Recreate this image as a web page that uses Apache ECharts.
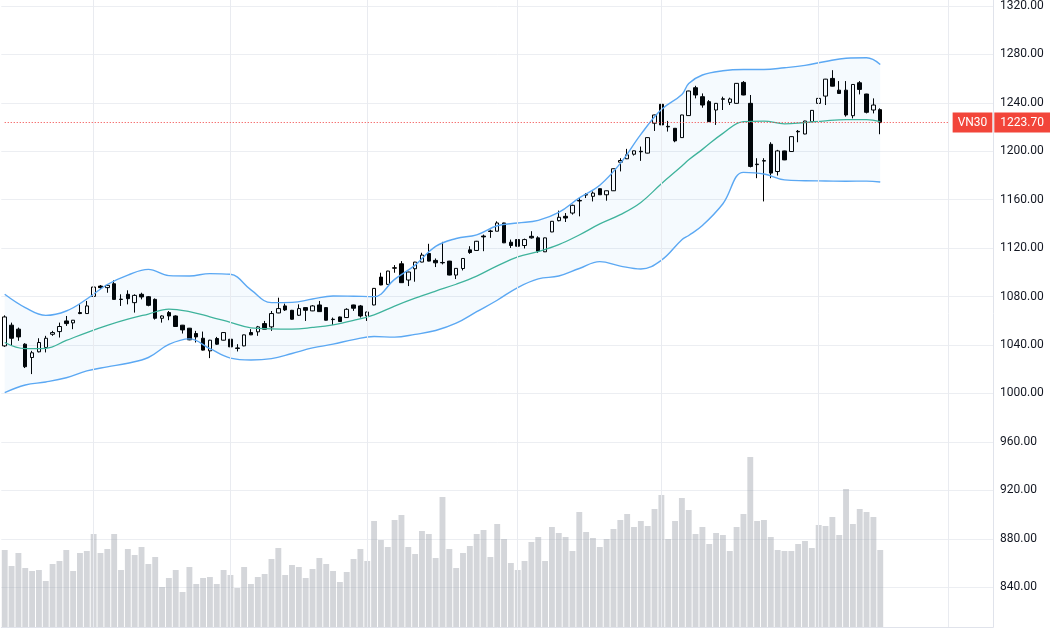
<!DOCTYPE html>
<html>
<head>
<meta charset="utf-8">
<script src="https://cdn.jsdelivr.net/npm/echarts@6/dist/echarts.min.js"></script>
<style>
  html, body { margin: 0; padding: 0; background: #fff; }
  #chart { width: 1050px; height: 630px; }
</style>
</head>
<body>
<div id="chart"></div>
<script>
// daily OHLC, one entry per session
const opens = [
  1039.3, 1056.4, 1053.1, 1040.7, 1029.7, 1034.4, 1038.0, 1048.9, 1051.1, 1059.9,
  1058.3, 1066.8, 1066.0, 1080.2, 1088.7, 1087.4, 1090.6, 1077.9, 1081.9, 1075.0,
  1081.9, 1079.9, 1077.7, 1062.1, 1066.8, 1064.0, 1056.4, 1053.9, 1049.5, 1045.6,
  1035.2, 1045.4, 1044.0, 1044.8, 1037.6, 1039.3, 1050.3, 1050.9, 1057.7, 1055.0,
  1066.5, 1072.3, 1068.7, 1064.6, 1070.9, 1068.2, 1073.1, 1070.9, 1061.3, 1063.2,
  1062.7, 1073.1, 1072.3, 1064.0, 1073.1, 1096.1, 1090.1, 1103.8, 1107.1, 1093.7,
  1103.0, 1108.5, 1115.6, 1109.9, 1108.2, 1109.3, 1097.8, 1103.2, 1118.6, 1118.1,
  1130.0, 1134.2, 1134.0, 1140.8, 1124.9, 1127.1, 1122.2, 1129.8, 1128.5, 1117.0,
  1133.4, 1142.7, 1146.3, 1149.0, 1159.4, 1164.2, 1162.8, 1169.1, 1164.1, 1167.4,
  1191.0, 1193.8, 1197.6, 1200.0, 1198.5, 1223.2, 1238.8, 1220.6, 1219.0, 1211.3,
  1229.5, 1252.5, 1245.1, 1241.0, 1234.1, 1243.3, 1240.4, 1239.6, 1256.9, 1239.6,
  1189.4, 1192.3, 1205.8, 1183.3, 1200.3, 1199.8, 1216.5, 1214.3, 1224.5, 1239.6,
  1245.6, 1260.2, 1250.5, 1250.5, 1229.4, 1256.6, 1247.3, 1234.1, 1234.4
];
const closes = [
  1063.2, 1045.6, 1046.7, 1022.1, 1033.6, 1042.1, 1045.6, 1050.3, 1055.3, 1057.7,
  1060.5, 1066.0, 1072.3, 1087.9, 1087.4, 1089.3, 1077.7, 1077.6, 1078.3, 1081.0,
  1079.7, 1072.8, 1062.1, 1064.0, 1064.0, 1055.3, 1052.5, 1044.3, 1046.7, 1035.8,
  1044.0, 1040.7, 1050.3, 1038.5, 1037.2, 1048.4, 1048.4, 1055.0, 1053.1, 1066.0,
  1070.1, 1069.0, 1061.3, 1070.1, 1068.7, 1072.3, 1067.6, 1060.5, 1061.0, 1059.4,
  1069.5, 1070.4, 1064.0, 1067.3, 1086.8, 1089.6, 1101.1, 1103.5, 1091.5, 1100.3,
  1108.5, 1114.3, 1109.3, 1107.9, 1107.9, 1097.8, 1103.3, 1111.5, 1116.4, 1125.7,
  1129.3, 1133.8, 1140.8, 1124.4, 1122.2, 1121.6, 1127.1, 1128.5, 1117.5, 1128.5,
  1142.2, 1145.5, 1144.9, 1155.4, 1159.0, 1163.9, 1165.5, 1164.1, 1167.4, 1185.6,
  1192.4, 1197.1, 1200.4, 1199.6, 1211.3, 1230.0, 1221.8, 1220.2, 1208.6, 1230.0,
  1249.8, 1246.5, 1238.2, 1224.5, 1239.6, 1243.0, 1243.2, 1256.1, 1246.5, 1187.5,
  1189.0, 1191.9, 1182.0, 1200.3, 1192.9, 1212.1, 1216.1, 1225.0, 1233.8, 1243.7,
  1259.6, 1253.8, 1247.8, 1230.0, 1255.2, 1251.1, 1232.2, 1238.2, 1223.7
];
const lows = [
  1038.5, 1039.3, 1043.5, 1021.0, 1016.0, 1033.9, 1033.9, 1047.6, 1046.2, 1055.8,
  1053.1, 1065.5, 1066.0, 1080.0, 1086.0, 1083.2, 1077.7, 1072.3, 1073.6, 1066.8,
  1077.7, 1072.0, 1061.0, 1058.5, 1060.5, 1055.0, 1049.5, 1044.0, 1042.1, 1035.5,
  1029.2, 1040.2, 1043.8, 1038.3, 1034.7, 1039.0, 1048.2, 1047.6, 1053.0, 1051.7,
  1066.3, 1068.1, 1061.0, 1064.0, 1059.9, 1068.0, 1067.4, 1060.3, 1056.6, 1059.2,
  1062.5, 1068.2, 1062.7, 1059.9, 1072.8, 1089.4, 1090.0, 1099.7, 1091.3, 1088.7,
  1092.3, 1108.3, 1109.1, 1104.4, 1106.6, 1097.6, 1094.5, 1101.6, 1115.3, 1118.0,
  1117.5, 1128.5, 1134.0, 1124.2, 1120.2, 1120.2, 1119.7, 1127.9, 1116.1, 1116.8,
  1133.2, 1142.2, 1141.6, 1147.7, 1146.3, 1161.4, 1158.6, 1164.0, 1159.2, 1167.2,
  1183.4, 1193.6, 1196.5, 1192.1, 1198.3, 1216.8, 1221.6, 1216.3, 1207.5, 1211.1,
  1229.3, 1243.7, 1236.0, 1224.3, 1221.8, 1234.1, 1238.2, 1239.4, 1246.3, 1186.7,
  1177.8, 1158.6, 1177.8, 1180.0, 1192.7, 1199.6, 1207.5, 1214.1, 1224.3, 1238.2,
  1238.2, 1253.6, 1247.6, 1228.6, 1227.2, 1247.0, 1231.3, 1231.3, 1214.1
];
const highs = [
  1064.5, 1058.5, 1054.4, 1041.5, 1035.2, 1045.6, 1047.6, 1051.7, 1058.5, 1064.0,
  1060.7, 1073.6, 1076.4, 1088.5, 1089.5, 1089.5, 1093.4, 1081.9, 1085.2, 1081.9,
  1083.2, 1080.5, 1078.5, 1064.5, 1068.1, 1064.5, 1056.6, 1054.1, 1051.7, 1051.1,
  1044.3, 1046.7, 1050.5, 1046.2, 1040.7, 1048.6, 1053.1, 1055.8, 1059.9, 1068.1,
  1079.1, 1074.2, 1069.0, 1073.6, 1071.1, 1073.0, 1076.4, 1071.2, 1062.7, 1063.5,
  1070.4, 1073.3, 1073.1, 1067.5, 1087.0, 1099.7, 1101.3, 1106.0, 1109.3, 1100.5,
  1108.7, 1116.2, 1123.6, 1111.5, 1125.2, 1109.5, 1103.5, 1111.7, 1121.6, 1126.0,
  1131.2, 1135.3, 1142.2, 1141.0, 1127.1, 1129.0, 1127.9, 1134.0, 1129.8, 1128.7,
  1142.4, 1151.0, 1149.0, 1155.9, 1161.4, 1165.5, 1166.9, 1169.3, 1167.6, 1185.8,
  1194.3, 1202.0, 1200.6, 1203.9, 1211.5, 1230.2, 1239.0, 1225.1, 1219.2, 1230.2,
  1250.0, 1254.1, 1247.8, 1242.3, 1239.8, 1245.1, 1244.3, 1256.3, 1258.0, 1246.5,
  1194.3, 1194.3, 1207.5, 1201.2, 1200.5, 1212.3, 1217.6, 1225.2, 1234.0, 1247.8,
  1259.8, 1267.0, 1258.0, 1258.0, 1255.4, 1258.0, 1247.5, 1243.7, 1235.5
];
// volume, million shares
const volumes = [
  77, 61, 74, 59, 56, 57, 46, 63, 66, 77,
  56, 74, 76, 93, 74, 78, 93, 57, 78, 72,
  80, 63, 70, 40, 49, 57, 35, 60, 43, 49,
  50, 43, 57, 52, 39, 60, 43, 50, 53, 68,
  79, 52, 62, 60, 49, 58, 69, 63, 56, 45,
  55, 68, 78, 66, 106, 87, 80, 107, 112, 80,
  73, 96, 93, 69, 130, 78, 59, 74, 81, 93,
  97, 70, 103, 88, 64, 57, 66, 85, 90, 66,
  100, 94, 90, 76, 115, 95, 89, 80, 88, 98,
  107, 113, 100, 106, 101, 118, 132, 88, 106, 129,
  117, 93, 100, 83, 94, 92, 76, 100, 113, 170,
  106, 107, 90, 77, 76, 76, 83, 86, 79, 102,
  101, 110, 92, 138, 103, 118, 115, 110, 77
];

// Bollinger bands at these sessions
const bandIdx = [0, 3, 6, 9, 12, 15, 18, 21, 24, 27, 30, 33, 36, 39, 42, 45, 48, 51, 54, 57, 60, 63, 66,
  69, 72, 75, 78, 81, 84, 87, 90, 93, 96, 99, 100, 102, 105, 108, 111, 114, 117, 120, 123, 126, 128];
const bandUpper = [1081.9, 1070.9, 1064.5, 1068.1, 1078, 1090, 1097.8, 1102.5, 1097.3, 1097, 1099, 1098.4,
  1085.5, 1075, 1075.2, 1078, 1080.5, 1080.3, 1080, 1094.2, 1106, 1121.5, 1128, 1131, 1138.5, 1140.8,
  1143, 1149.5, 1161.5, 1172, 1190, 1214, 1234.5, 1247, 1256, 1263, 1266.5, 1267.5, 1267.5, 1269,
  1271, 1274.2, 1276.8, 1277.2, 1271.7];
const bandMiddle = [1042.1, 1037, 1037.3, 1043.8, 1050.3, 1056.2, 1061.3, 1065.6, 1069.7, 1067.6, 1063.3,
  1058.7, 1054.2, 1053.4, 1053.2, 1054.5, 1056.6, 1060.3, 1065, 1072.2, 1078.7, 1084.6, 1090.2, 1096.9,
  1105.4, 1112.8, 1117.2, 1122.9, 1130.9, 1140, 1147.7, 1157.8, 1173.2, 1187.8, 1193, 1201.6, 1214.8,
  1224.5, 1225, 1222.6, 1223.8, 1225.2, 1226.1, 1226.2, 1224.5];
const bandLower = [1000.7, 1007, 1009.5, 1013, 1018.6, 1022, 1025, 1029.7, 1040.5, 1045.1, 1037, 1029.2,
  1027.6, 1028.8, 1033, 1037.6, 1040.7, 1044.5, 1047, 1046.5, 1048.8, 1052, 1058, 1067.5, 1077, 1087.5,
  1094.6, 1097, 1103.2, 1108.9, 1105.2, 1102.8, 1110, 1127, 1130.5, 1138.7, 1156.7, 1182.6, 1181.3,
  1176.4, 1175.7, 1175.5, 1175.3, 1175.4, 1174.6];

// first session of each month (138 is in the empty space on the right)
const monthStarts = [13, 33, 53, 75, 96, 119, 138];
const symbolName = "VN30";
const lastPrice = 1223.7;
const priceMin = 840;
const priceMax = 1320;
const priceStep = 40;
const slotCount = 145;

const slots = Array.from({ length: slotCount }, (_, i) => String(i));
const candles = opens.map((o, i) => [o, closes[i], lows[i], highs[i]]);
const pairs = (vals) => bandIdx.map((x, k) => [x, vals[k]]);
const bandWidth = bandIdx.map((x, k) => [x, bandUpper[k] - bandLower[k]]);

const chart = echarts.init(document.getElementById("chart"));

const blue = "#5ba8f3";
const font = "Roboto";

chart.setOption({
  animation: false,
  backgroundColor: "#ffffff",
  grid: [
    { left: 1.3, right: 56.9, top: 0, bottom: 3 },
    { left: 1.3, right: 56.9, top: 4, bottom: 42.8 }
  ],
  xAxis: [
    {
      type: "category", gridIndex: 0, data: slots, boundaryGap: true,
      axisLine: { show: true, lineStyle: { color: "#e0e3eb" } },
      axisTick: { show: false }, axisLabel: { show: false }, splitLine: { show: false }
    },
    {
      type: "category", gridIndex: 1, data: slots, boundaryGap: true,
      axisLine: { show: false }, axisTick: { show: false },
      axisLabel: { show: false }, splitLine: { show: false }
    }
  ],
  yAxis: [
    {
      type: "value", gridIndex: 0, position: "right", min: 0, max: 627,
      axisLine: { show: true, lineStyle: { color: "#e0e3eb" } },
      axisTick: { show: false }, axisLabel: { show: false }, splitLine: { show: false }
    },
    {
      type: "value", gridIndex: 1, position: "right",
      min: priceMin, max: priceMax, interval: priceStep,
      axisLine: { show: false }, axisTick: { show: false },
      axisLabel: {
        margin: 7, color: "#131722", fontSize: 12, fontFamily: font,
        formatter: (v) => v.toFixed(2)
      },
      splitLine: { lineStyle: { color: "#eceef2", width: 1 } }
    }
  ],
  series: [
    {
      name: "Volume", type: "bar", xAxisIndex: 0, yAxisIndex: 0,
      data: volumes, barWidth: "86%",
      itemStyle: { color: "rgba(160,163,172,0.45)" },
      markLine: {
        silent: true, symbol: ["none", "none"],
        label: { show: false },
        lineStyle: { color: "#e9ebf0", width: 1, type: "solid" },
        data: monthStarts.map((i) => ({ xAxis: i }))
      }
    },
    {
      name: "band-base", type: "line", xAxisIndex: 1, yAxisIndex: 1,
      stack: "bb", data: pairs(bandLower), smooth: 0.4,
      symbol: "none", lineStyle: { width: 0, opacity: 0 }
    },
    {
      name: "band-fill", type: "line", xAxisIndex: 1, yAxisIndex: 1,
      stack: "bb", data: bandWidth, smooth: 0.4,
      symbol: "none", lineStyle: { width: 0, opacity: 0 },
      areaStyle: { color: "rgba(33,150,243,0.06)" }
    },
    {
      name: "Upper", type: "line", xAxisIndex: 1, yAxisIndex: 1,
      data: pairs(bandUpper), smooth: 0.4, symbol: "none",
      lineStyle: { color: blue, width: 1.4 }
    },
    {
      name: "Lower", type: "line", xAxisIndex: 1, yAxisIndex: 1,
      data: pairs(bandLower), smooth: 0.4, symbol: "none",
      lineStyle: { color: blue, width: 1.4 }
    },
    {
      name: "Basis", type: "line", xAxisIndex: 1, yAxisIndex: 1,
      data: pairs(bandMiddle), smooth: 0.4, symbol: "none",
      lineStyle: { color: "#3fb39c", width: 1.3 }
    },
    {
      name: symbolName, type: "candlestick", xAxisIndex: 1, yAxisIndex: 1,
      data: candles, barWidth: 4,
      itemStyle: {
        color: "#ffffff", color0: "#000000",
        borderColor: "#000000", borderColor0: "#000000", borderWidth: 1
      },
      markLine: {
        silent: true, symbol: ["none", "none"],
        lineStyle: { color: "#f23d3d", width: 1, type: [1, 2] },
        label: {
          show: true, position: "end", distance: 4,
          formatter: "{a|" + symbolName + "}{g| }{b|" + lastPrice.toFixed(2) + "}",
          rich: {
            a: {
              backgroundColor: "#f2453a", color: "#ffffff", fontSize: 12, fontFamily: font,
              padding: [4, 5, 4, 5], lineHeight: 12
            },
            g: { width: 2 },
            b: {
              backgroundColor: "#f2453a", color: "#ffffff", fontSize: 12, fontFamily: font,
              padding: [4, 7, 4, 6], lineHeight: 12
            }
          }
        },
        data: [[{ coord: [0, lastPrice] }, { coord: [monthStarts[6], lastPrice] }]]
      }
    }
  ]
});

window.addEventListener("resize", () => chart.resize());
</script>
</body>
</html>
